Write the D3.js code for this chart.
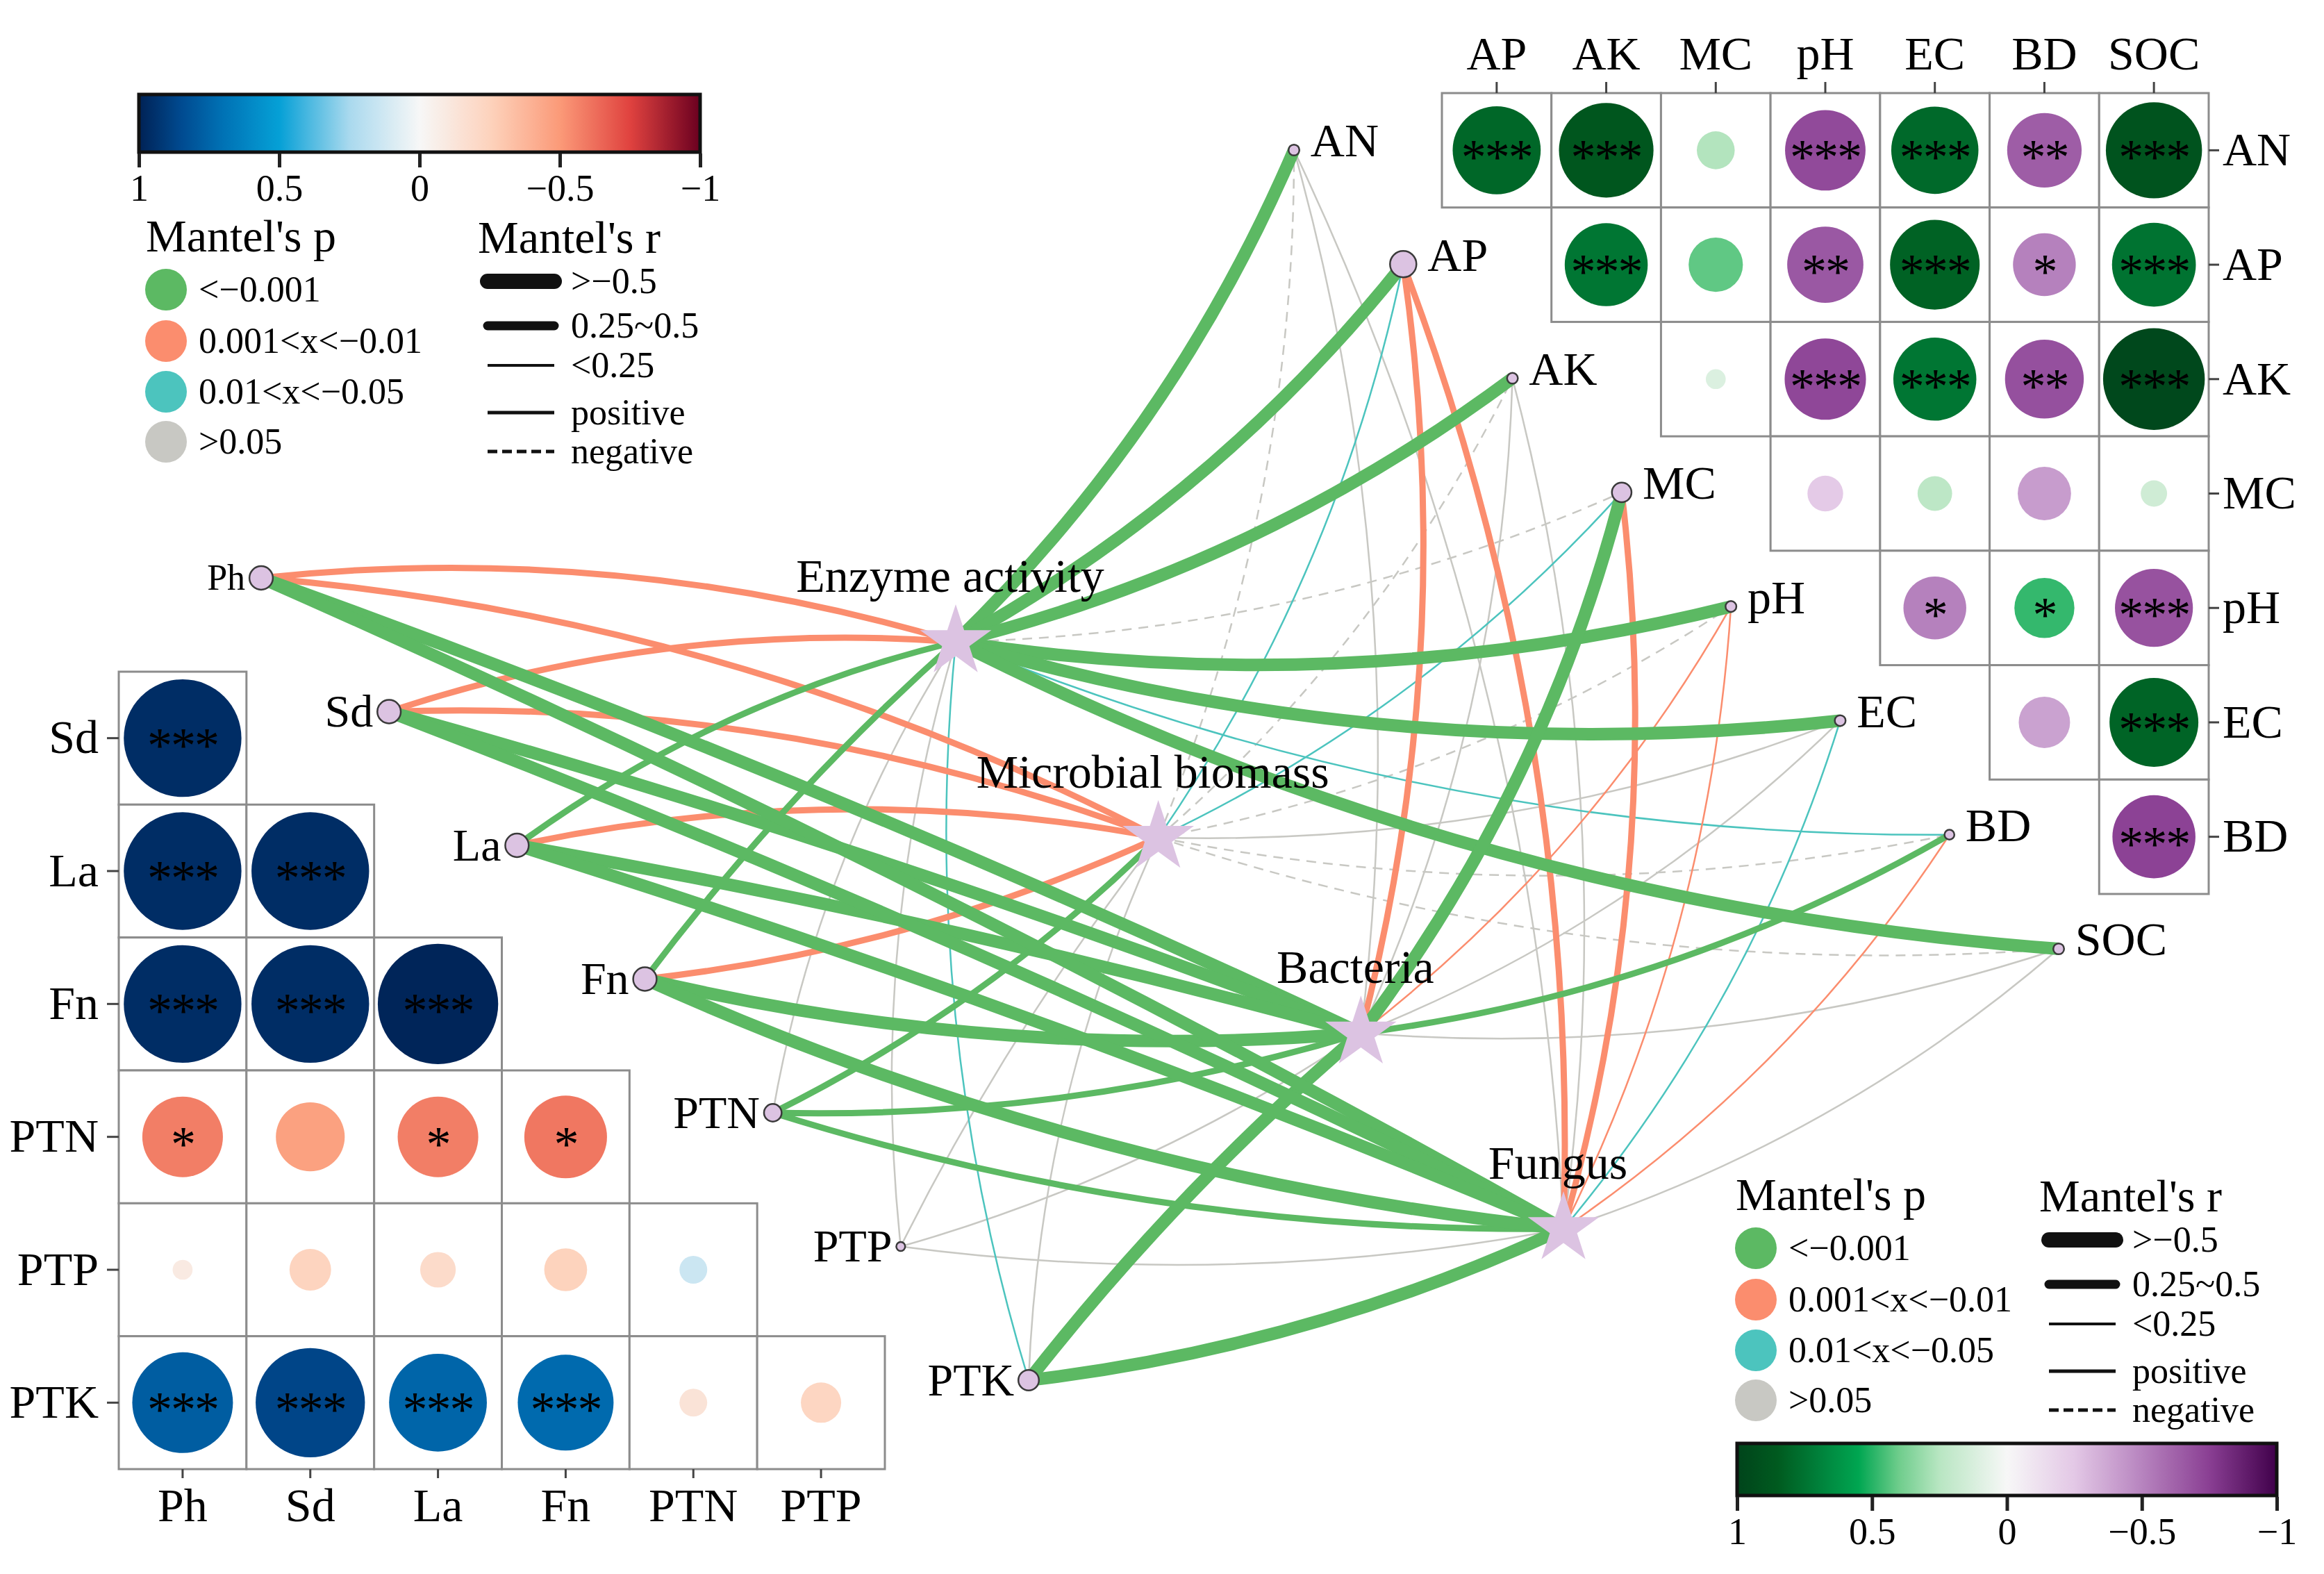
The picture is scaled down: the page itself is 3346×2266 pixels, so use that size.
<!DOCTYPE html>
<html>
<head>
<meta charset="utf-8">
<script src="https://cdn.jsdelivr.net/npm/d3@7"></script>
<style>
  body { margin: 0; background: #fff; }
  svg { display: block; }
</style>
</head>
<body>
<svg id="chart" width="3346" height="2266"></svg>
<script>
// 1: DATA
const starNames = ["Enzyme activity", "Microbial biomass", "Bacteria", "Fungus"];
const leftVars = ["Ph", "Sd", "La", "Fn", "PTN", "PTP", "PTK"];
const rightVars = ["AN", "AP", "AK", "MC", "pH", "EC", "BD", "SOC"];

// node weight, shown as node size
const leftWeight = [0.85, 0.85, 0.85, 0.85, 0.55, 0.1, 0.7];
const rightWeight = [0.2, 1, 0.2, 0.65, 0.2, 0.2, 0.15, 0.2];

// Mantel's r / p : rows = starNames, cols = leftVars
const leftR = [
  [0.38, 0.36, 0.40, 0.41, 0.12, 0.08, 0.18],
  [0.33, 0.32, 0.34, 0.36, 0.40, 0.10, 0.14],
  [0.60, 0.62, 0.60, 0.55, 0.42, 0.10, 0.56],
  [0.62, 0.64, 0.60, 0.55, 0.38, 0.08, 0.55]
];
const leftP = [
  [0.004, 0.005, 0.0006, 0.0005, 0.21, 0.35, 0.03],
  [0.006, 0.004, 0.003, 0.002, 0.0007, 0.15, 0.09],
  [0.0001, 0.0001, 0.0001, 0.0002, 0.0008, 0.2, 0.0002],
  [0.0001, 0.0001, 0.0001, 0.0002, 0.0009, 0.3, 0.0003]
];
// Mantel's r / p : rows = starNames, cols = rightVars
const rightR = [
  [0.62, 0.66, 0.64, -0.08, 0.61, 0.60, 0.19, 0.58],
  [-0.05, 0.20, -0.06, 0.21, -0.04, 0.09, -0.07, -0.05],
  [0.10, 0.35, 0.12, 0.55, 0.22, 0.12, 0.40, 0.10],
  [0.10, 0.42, 0.10, 0.32, 0.20, 0.20, 0.22, 0.12]
];
const rightP = [
  [0.0002, 0.0001, 0.0001, 0.6, 0.0001, 0.0002, 0.02, 0.0003],
  [0.7, 0.03, 0.7, 0.02, 0.8, 0.2, 0.6, 0.7],
  [0.15, 0.004, 0.1, 0.0005, 0.006, 0.12, 0.0008, 0.2],
  [0.2, 0.003, 0.2, 0.005, 0.008, 0.03, 0.007, 0.1]
];

// upper-right correlation matrix (upper triangle, row by row)
const topRows = ["AN", "AP", "AK", "MC", "pH", "EC", "BD"];
const topCols = ["AP", "AK", "MC", "pH", "EC", "BD", "SOC"];
const topR = [
  [0.80, 0.88, 0.26, -0.71, 0.79, -0.64, 0.90],
  [0.74, 0.42, -0.66, 0.82, -0.51, 0.75],
  [0.11, -0.72, 0.74, -0.69, 0.97],
  [-0.24, 0.23, -0.41, 0.16],
  [-0.51, 0.48, -0.68],
  [-0.39, 0.81],
  [-0.74]
];
const topSig = [
  ["***", "***", "", "***", "***", "**", "***"],
  ["***", "", "**", "***", "*", "***"],
  ["", "***", "***", "**", "***"],
  ["", "", "", ""],
  ["*", "*", "***"],
  ["", "***"],
  ["***"]
];

// lower-left correlation matrix (lower triangle, row by row)
const lowRows = ["Sd", "La", "Fn", "PTN", "PTP", "PTK"];
const lowCols = ["Ph", "Sd", "La", "Fn", "PTN", "PTP"];
const lowR = [
  [0.96],
  [0.96, 0.96],
  [0.96, 0.96, 0.99],
  [-0.58, -0.47, -0.58, -0.60],
  [-0.09, -0.24, -0.195, -0.25, 0.14],
  [0.78, 0.87, 0.75, 0.73, -0.14, -0.23]
];
const lowSig = [
  ["***"],
  ["***", "***"],
  ["***", "***", "***"],
  ["*", "", "*", "*"],
  ["", "", "", "", ""],
  ["***", "***", "***", "***", "", ""]
];

const barTicks = [1, 0.5, 0, -0.5, -1];
const pLabels = ["<\u22120.001", "0.001<x<\u22120.01", "0.01<x<\u22120.05", ">0.05"];
const rLabels = [">\u22120.5", "0.25~0.5", "<0.25", "positive", "negative"];

// 2: SETUP
const serif = '"Liberation Serif", "Times New Roman", serif';
const svg = d3.select("#chart").attr("font-family", serif);
const defs = svg.append("defs");
svg.append("rect").attr("width", 3346).attr("height", 2266).attr("fill", "#fff");

const pColors = ["#5cb963", "#fb8d6e", "#4cc4be", "#c8c8c3"];
const pClass = p => p <= 0.001 ? 0 : p <= 0.01 ? 1 : p <= 0.05 ? 2 : 3;
const rWidth = r => Math.abs(r) >= 0.5 ? 18 : Math.abs(r) >= 0.25 ? 9 : 2.5;
const nodeFill = "#dcc3e2";

const greenPurple = d3.scaleLinear()
  .domain([-1, -0.75, -0.5, -0.25, 0, 0.25, 0.4, 0.55, 0.7, 0.85, 1])
  .range(["#40004b", "#8a3f93", "#b784bf", "#e3c8e6", "#f7f7f7", "#b8e6c2", "#6fcd8c", "#00a651", "#00803a", "#005a1f", "#00441b"]);
const blueRed = d3.scaleLinear()
  .domain([-1, -0.75, -0.5, -0.25, 0, 0.25, 0.5, 0.7, 0.85, 1])
  .range(["#6b0020", "#e0423f", "#fb9a78", "#fdd3bd", "#f7f7f7", "#a9d9ee", "#05a0d6", "#0072b5", "#004a90", "#002255"]);

// 3: NETWORK SCALES
const leftX = d3.scalePoint().domain(leftVars).range([376, 1481]);
const leftY = d3.scalePoint().domain(leftVars).range([832, 1987]);
const rightX = d3.scalePoint().domain(rightVars).range([1863, 2964]);
const rightY = d3.scalePoint().domain(rightVars).range([216, 1366]);
const starX = d3.scalePoint().domain(starNames).range([1376, 2251]);
const starY = d3.scalePoint().domain(starNames).range([924, 1769]);
const nodeR = d3.scaleLinear().domain([0, 1]).range([5, 19]);

const starPos = j => [starX(starNames[j]), starY(starNames[j])];
const leftPos = i => [leftX(leftVars[i]), leftY(leftVars[i])];
const rightPos = i => [rightX(rightVars[i]), rightY(rightVars[i])];

// bend: share of chord length, positive = bows to the right of star -> node
function bendOf(e) {
  if (e.side === "right") return 0.05;
  const s = starPos(e.s), n = leftPos(e.i);
  const du = (n[0] + n[1]) - (s[0] + s[1]);
  if (e.i < 3) return e.s < 2 ? 0.05 : 0.012;
  if (du > -150) return du < 300 ? 0.025 : 0.05;
  return -0.04;
}

function curvePath(s, n, m) {
  const dx = n[0] - s[0], dy = n[1] - s[1];
  const cx = (s[0] + n[0]) / 2 - dy * 2 * m;
  const cy = (s[1] + n[1]) / 2 + dx * 2 * m;
  const p = d3.path();
  p.moveTo(s[0], s[1]);
  p.quadraticCurveTo(cx, cy, n[0], n[1]);
  return p.toString();
}

// 4: EDGES
const edges = [];
starNames.forEach((name, j) => {
  leftVars.forEach((v, i) => edges.push({ s: j, side: "left", i, r: leftR[j][i], p: leftP[j][i] }));
  rightVars.forEach((v, i) => edges.push({ s: j, side: "right", i, r: rightR[j][i], p: rightP[j][i] }));
});
edges.sort((a, b) => rWidth(a.r) - rWidth(b.r) || pClass(b.p) - pClass(a.p));

svg.append("g").selectAll("path")
  .data(edges)
  .join("path")
  .attr("d", e => curvePath(starPos(e.s), e.side === "left" ? leftPos(e.i) : rightPos(e.i), bendOf(e)))
  .attr("fill", "none")
  .attr("stroke", e => pColors[pClass(e.p)])
  .attr("stroke-width", e => rWidth(e.r))
  .attr("stroke-dasharray", e => e.r < 0 ? "14,10" : null);

// 5: NODES
const gNodes = svg.append("g");
gNodes.selectAll("circle.left")
  .data(leftVars)
  .join("circle")
  .attr("class", "left")
  .attr("cx", d => leftX(d)).attr("cy", d => leftY(d))
  .attr("r", (d, i) => nodeR(leftWeight[i]))
  .attr("fill", nodeFill).attr("stroke", "#3a3a3a").attr("stroke-width", 2.5);

gNodes.selectAll("circle.right")
  .data(rightVars)
  .join("circle")
  .attr("class", "right")
  .attr("cx", d => rightX(d)).attr("cy", d => rightY(d))
  .attr("r", (d, i) => nodeR(rightWeight[i]))
  .attr("fill", nodeFill).attr("stroke", "#3a3a3a").attr("stroke-width", 2.5);

gNodes.selectAll("path.star")
  .data(starNames)
  .join("path")
  .attr("class", "star")
  .attr("d", d3.symbol(d3.symbolStar, 3270))
  .attr("transform", d => `translate(${starX(d)},${starY(d)})`)
  .attr("fill", nodeFill);

// node labels
gNodes.selectAll("text.left")
  .data(leftVars)
  .join("text")
  .attr("class", "left")
  .attr("x", (d, i) => leftX(d) - nodeR(leftWeight[i]) - 6)
  .attr("y", d => leftY(d))
  .attr("dy", "0.33em")
  .attr("text-anchor", "end")
  .attr("font-size", d => d === "Ph" ? 52 : 66)
  .text(d => d);

gNodes.selectAll("text.right")
  .data(rightVars)
  .join("text")
  .attr("class", "right")
  .attr("x", (d, i) => rightX(d) + nodeR(rightWeight[i]) + 16)
  .attr("y", d => rightY(d) - 13)
  .attr("dy", "0.33em")
  .attr("font-size", 68)
  .text(d => d);

gNodes.selectAll("text.star")
  .data(starNames)
  .join("text")
  .attr("class", "star")
  .attr("x", d => starX(d) - 8)
  .attr("y", d => starY(d) - 72)
  .attr("text-anchor", "middle")
  .attr("font-size", 68)
  .text(d => d);

// 6: CORRELATION MATRICES
function styleAxis(g, size) {
  g.attr("font-size", null).attr("font-family", null);
  g.select(".domain").remove();
  g.selectAll(".tick line").attr("stroke", "#444").attr("stroke-width", 3);
  g.selectAll(".tick text").attr("font-size", size).attr("fill", "#000");
}

function drawMatrix(cells, xs, ys, colorScale) {
  const g = svg.append("g");
  const half = Math.min(xs.bandwidth(), ys.bandwidth()) / 2;
  g.selectAll("rect").data(cells).join("rect")
    .attr("x", d => xs(d.col)).attr("y", d => ys(d.row))
    .attr("width", xs.bandwidth()).attr("height", ys.bandwidth())
    .attr("fill", "#fff").attr("stroke", "#8c8c8c").attr("stroke-width", 3);
  g.selectAll("circle").data(cells).join("circle")
    .attr("cx", d => xs(d.col) + xs.bandwidth() / 2)
    .attr("cy", d => ys(d.row) + ys.bandwidth() / 2)
    .attr("r", d => half * 0.95 * Math.pow(Math.abs(d.r), 0.75))
    .attr("fill", d => colorScale(d.r));
  g.selectAll("text").data(cells.filter(d => d.sig)).join("text")
    .attr("x", d => xs(d.col) + xs.bandwidth() / 2)
    .attr("y", d => ys(d.row) + ys.bandwidth() / 2 + 34)
    .attr("text-anchor", "middle")
    .attr("font-size", 72)
    .attr("letter-spacing", -2)
    .text(d => d.sig);
}

const tx = d3.scaleBand().domain(topCols).range([2076, 3180]);
const ty = d3.scaleBand().domain(topRows).range([134, 1287]);
const topCells = topRows.flatMap((row, i) => topR[i].map((r, k) => ({ row, col: topCols[i + k], r, sig: topSig[i][k] })));
drawMatrix(topCells, tx, ty, greenPurple);
svg.append("g").attr("transform", "translate(0,134)")
  .call(d3.axisTop(tx).tickSize(16).tickPadding(18))
  .call(g => styleAxis(g, 68));
svg.append("g").attr("transform", "translate(3180,0)")
  .call(d3.axisRight(ty).tickSize(15).tickPadding(5))
  .call(g => styleAxis(g, 68));

const lx = d3.scaleBand().domain(lowCols).range([171, 1274]);
const ly = d3.scaleBand().domain(lowRows).range([967, 2115]);
const lowCells = lowRows.flatMap((row, i) => lowR[i].map((r, k) => ({ row, col: lowCols[k], r, sig: lowSig[i][k] })));
drawMatrix(lowCells, lx, ly, blueRed);
svg.append("g").attr("transform", "translate(171,0)")
  .call(d3.axisLeft(ly).tickSize(17).tickPadding(12))
  .call(g => styleAxis(g, 68));
svg.append("g").attr("transform", "translate(0,2115)")
  .call(d3.axisBottom(lx).tickSize(13).tickPadding(14))
  .call(g => styleAxis(g, 68));

// 7: COLOUR BARS
function colorBar(id, scale, x0, x1, y0, y1) {
  const grad = defs.append("linearGradient").attr("id", id);
  d3.range(0, 41).forEach(k => {
    const t = k / 40;
    grad.append("stop").attr("offset", t).attr("stop-color", scale(1 - 2 * t));
  });
  svg.append("rect")
    .attr("x", x0).attr("y", y0).attr("width", x1 - x0).attr("height", y1 - y0)
    .attr("fill", `url(#${id})`).attr("stroke", "#111").attr("stroke-width", 5);
  const bx = d3.scaleLinear().domain([1, -1]).range([x0, x1]);
  svg.append("g").attr("transform", `translate(0,${y1 + 2})`)
    .call(d3.axisBottom(bx).tickValues(barTicks).tickSize(20).tickPadding(10).tickFormat(d3.format("")))
    .call(g => {
      styleAxis(g, 54);
      g.selectAll(".tick line").attr("stroke", "#222").attr("stroke-width", 5);
    });
}
colorBar("gradRB", blueRed, 200, 1008, 136, 219);
colorBar("gradGP", greenPurple, 2501, 3278, 2078, 2153);

// 8: LEGENDS
function legend(x0, y0, rx) {
  const g = svg.append("g");
  g.append("text").attr("x", x0).attr("y", y0).attr("font-size", 66).text("Mantel's p");
  const cys = [55, 129, 202, 274];
  pLabels.forEach((lab, i) => {
    g.append("circle").attr("cx", x0 + 29).attr("cy", y0 + cys[i]).attr("r", 30).attr("fill", pColors[i]);
    g.append("text").attr("x", x0 + 76).attr("y", y0 + cys[i]).attr("dy", "0.33em")
      .attr("font-size", 52).text(lab);
  });
  g.append("text").attr("x", rx).attr("y", y0 + 2).attr("font-size", 66).text("Mantel's r");
  const lys = [43, 107, 164, 232, 288];
  const lws = [22, 13, 4, 5, 5];
  rLabels.forEach((lab, i) => {
    g.append("line")
      .attr("x1", rx + 14).attr("x2", rx + 110)
      .attr("y1", y0 + lys[i]).attr("y2", y0 + lys[i])
      .attr("stroke", "#111").attr("stroke-width", lws[i])
      .attr("stroke-linecap", i < 2 ? "round" : "butt")
      .attr("stroke-dasharray", i === 4 ? "14,7" : null);
    g.append("text").attr("x", rx + 134).attr("y", y0 + lys[i]).attr("dy", "0.33em")
      .attr("font-size", 52).text(lab);
  });
}
legend(210, 362, 688);
legend(2499, 1742, 2936);
</script>
</body>
</html>
